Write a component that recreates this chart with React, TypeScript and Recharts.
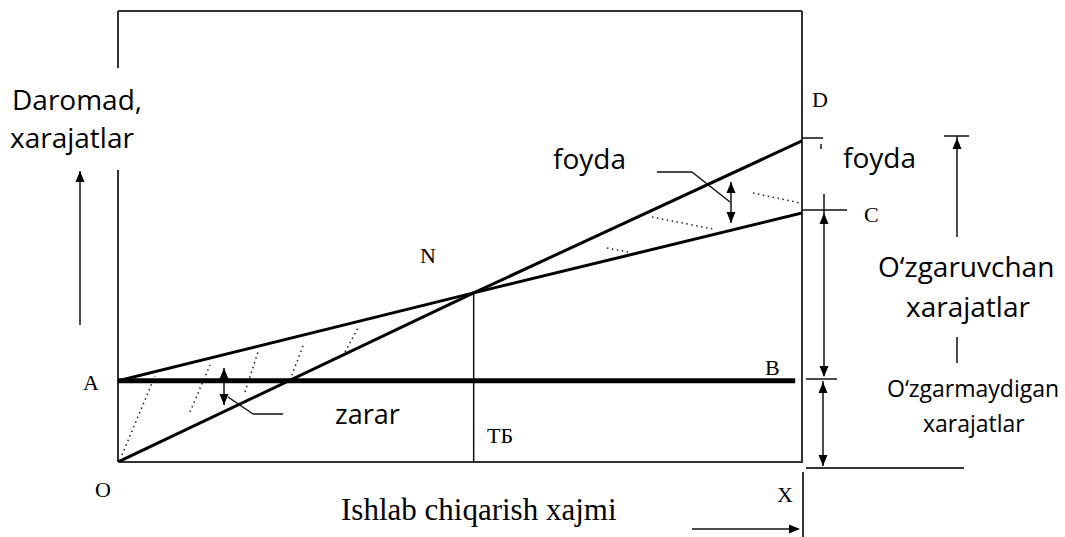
import React from 'react'
import { ComposedChart, Line, XAxis, YAxis, ReferenceLine, ReferenceDot } from 'recharts'

// production volume (0..100) and the two main lines
const volume = [0, 52, 100]
const revenue = [0, 37.5, 71.2]
const totalCost = [18, 37.5, 55.2]
const fixedVolume = [0, 99]
const fixedCost = [18, 18]

const mainData = volume.map((x, i) => ({ x, revenue: revenue[i], cost: totalCost[i] }))
const fixedData = fixedVolume.map((x, i) => ({ x, fixed: fixedCost[i] }))

// plot box in page pixels
const L = 118
const T = 11
const W = 684
const H = 451
const toX = (px: number) => ((px - L) / W) * 100
const toY = (py: number) => ((T + H - py) / H) * 100

type Seg = [number, number, number, number]

const frameLines: Seg[] = [
  [118, 11, 802, 11],
  [118, 11, 118, 68],
  [118, 170, 118, 462],
  [802, 11, 802, 463],
  [118, 462, 802, 462],
  [806, 468, 964, 468],
  [803, 472, 803, 537],
]

const guideLines: Seg[] = [
  [802, 138, 823, 138],
  [821, 144, 821, 149],
  [802, 210, 847, 210],
  [824, 194, 824, 376],
  [806, 379, 837, 379],
  [823, 381, 823, 466],
  [944, 136, 969, 136],
  [957, 136, 957, 237],
  [957, 337, 957, 363],
  [80, 171, 80, 325],
  [692, 529, 798, 529],
  [224, 368, 224, 405],
  [228, 397, 253, 414],
  [253, 414, 283, 414],
  [731, 182, 731, 223],
  [657, 172, 692, 172],
  [692, 172, 730, 202],
]

const hatchLines: Seg[] = [
  [122, 455, 155, 376],
  [190, 412, 210, 365],
  [245, 392, 258, 352],
  [290, 380, 303, 346],
  [345, 352, 358, 328],
  [607, 248, 628, 252],
  [652, 217, 713, 229],
  [753, 193, 800, 203],
]

type Head = [number, number, 'up' | 'down' | 'right']
const arrowHeads: Head[] = [
  [824, 213, 'up'],
  [824, 377, 'down'],
  [823, 382, 'up'],
  [823, 466, 'down'],
  [957, 138, 'up'],
  [80, 171, 'up'],
  [800, 529, 'right'],
  [224, 368, 'up'],
  [224, 405, 'down'],
  [731, 182, 'up'],
  [731, 223, 'down'],
]

const sans = '"Open Sans", "Noto Sans", sans-serif'
const serif = '"Liberation Serif", "DejaVu Serif", serif'

type Note = { text: string; x: number; y: number; size: number; font: string }
const notes: Note[] = [
  { text: 'Daromad,', x: 12, y: 110, size: 28, font: sans },
  { text: 'xarajatlar', x: 10, y: 148, size: 28, font: sans },
  { text: 'foyda', x: 553, y: 169, size: 28, font: sans },
  { text: 'foyda', x: 843, y: 168, size: 28, font: sans },
  { text: 'O‘zgaruvchan', x: 878, y: 277, size: 28, font: sans },
  { text: 'xarajatlar', x: 906, y: 317, size: 28, font: sans },
  { text: 'O‘zgarmaydigan', x: 887, y: 397, size: 23, font: sans },
  { text: 'xarajatlar', x: 923, y: 432, size: 23, font: sans },
  { text: 'zarar', x: 335, y: 424, size: 27, font: sans },
  { text: 'Ishlab chiqarish xajmi', x: 341, y: 520, size: 31, font: serif },
  { text: 'D', x: 812, y: 107, size: 22, font: serif },
  { text: 'C', x: 864, y: 222, size: 22, font: serif },
  { text: 'N', x: 420, y: 263, size: 22, font: serif },
  { text: 'A', x: 83, y: 390, size: 22, font: serif },
  { text: 'B', x: 765, y: 375, size: 22, font: serif },
  { text: 'O', x: 95, y: 497, size: 22, font: serif },
  { text: 'X', x: 777, y: 502, size: 22, font: serif },
  { text: 'ТБ', x: 487, y: 443, size: 22, font: serif },
]

const headShape = (dir: Head[2]) => (p: any) => {
  const { cx, cy } = p
  let pts = ''
  if (dir === 'up') pts = `${cx},${cy} ${cx - 4.5},${cy + 11} ${cx + 4.5},${cy + 11}`
  else if (dir === 'down') pts = `${cx},${cy} ${cx - 4.5},${cy - 11} ${cx + 4.5},${cy - 11}`
  else pts = `${cx},${cy} ${cx - 11},${cy - 4.5} ${cx - 11},${cy + 4.5}`
  return <polygon points={pts} fill="#000" />
}

const noteShape = (n: Note) => (p: any) => (
  <text x={p.cx} y={p.cy} fontFamily={n.font} fontSize={n.size} fill="#000" textAnchor="start">
    {n.text}
  </text>
)

const segment = (s: Seg, key: string, stroke: string, width: number, dash?: string) => (
  <ReferenceLine
    key={key}
    segment={[
      { x: toX(s[0]), y: toY(s[1]) },
      { x: toX(s[2]), y: toY(s[3]) },
    ]}
    stroke={stroke}
    strokeWidth={width}
    strokeDasharray={dash}
    ifOverflow="visible"
  />
)

export default function App() {
  return (
    <div style={{ position: 'absolute', left: 0, top: 0, width: 1065, height: 537, background: '#fff' }}>
      <ComposedChart
        width={1065}
        height={537}
        data={mainData}
        margin={{ top: T, right: 1065 - L - W, bottom: 537 - T - H, left: L }}
      >
        <XAxis dataKey="x" type="number" domain={[0, 100]} hide allowDataOverflow />
        <YAxis type="number" domain={[0, 100]} hide allowDataOverflow />

        {frameLines.map((s, i) => segment(s, `f${i}`, '#333', 2))}
        {hatchLines.map((s, i) => segment(s, `h${i}`, '#222', 1.5, '1.5 3.5'))}
        {guideLines.map((s, i) => segment(s, `g${i}`, '#111', 1.5))}

        {/* break-even volume */}
        <ReferenceLine
          segment={[
            { x: volume[1], y: 0 },
            { x: volume[1], y: revenue[1] },
          ]}
          stroke="#111"
          strokeWidth={1.5}
          ifOverflow="visible"
        />

        <Line data={fixedData} dataKey="fixed" type="linear" stroke="#000" strokeWidth={5}
          dot={false} activeDot={false} isAnimationActive={false} />
        <Line dataKey="cost" type="linear" stroke="#000" strokeWidth={3}
          dot={false} activeDot={false} isAnimationActive={false} />
        <Line dataKey="revenue" type="linear" stroke="#000" strokeWidth={3}
          dot={false} activeDot={false} isAnimationActive={false} />

        {arrowHeads.map((a, i) => (
          <ReferenceDot key={`a${i}`} x={toX(a[0])} y={toY(a[1])} r={1} ifOverflow="visible" shape={headShape(a[2])} />
        ))}
        {notes.map((n, i) => (
          <ReferenceDot key={`n${i}`} x={toX(n.x)} y={toY(n.y)} r={1} ifOverflow="visible" shape={noteShape(n)} />
        ))}
      </ComposedChart>
    </div>
  )
}
